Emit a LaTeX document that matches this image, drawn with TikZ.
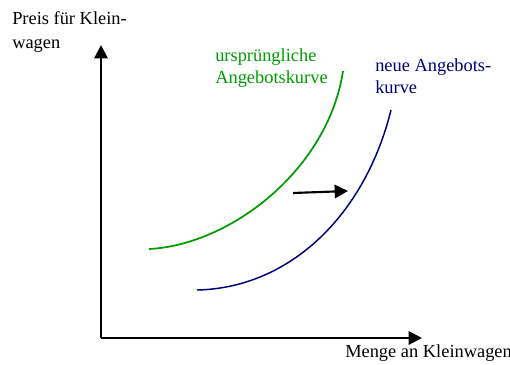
\documentclass[tikz,border=0pt]{standalone}
\usepackage{fontspec}
\setmainfont{Liberation Serif}
\usetikzlibrary{arrows.meta}
\definecolor{oldsupply}{RGB}{0,155,0}
\definecolor{newsupply}{RGB}{0,0,120}

\begin{document}
\begin{tikzpicture}[
  x=0.75pt, y=-0.75pt,
  every node/.style={font=\fontsize{13.8}{17}\selectfont, inner sep=0, align=left},
  axis/.style={line width=1.5pt, -{Triangle[length=10pt, width=10pt]}},
  curve/.style={line width=1.3pt},
  >=Stealth
]
\useasboundingbox (0,0) rectangle (510,364);

% Axes
\coordinate (origin) at (101,338);
\coordinate (ytip) at (101,45);
\coordinate (xtip) at (422,338);
\draw[axis] (origin) -- (ytip);
\draw[axis] (origin) -- (xtip);

\node[anchor=north west, font=\fontsize{13.8}{18.5}\selectfont] (ylabel) at (12,11) {Preis für Klein-\\wagen};
\node[anchor=north west] (xlabel) at (345,344) {Menge an Kleinwagen};

% Supply curves
\coordinate (oldstart) at (149,249);
\coordinate (oldend) at (343,71);
\draw[curve, oldsupply] (oldstart) .. controls (230,245) and (328,170) .. (oldend);
\node[anchor=north west, text=oldsupply] (oldlabel) at (215,48) {ursprüngliche\\Angebotskurve};

\coordinate (newstart) at (197,290);
\coordinate (newend) at (391,110);
\draw[curve, newsupply, line width=1.1pt] (newstart) .. controls (290,288) and (365,215) .. (newend);
\node[anchor=north west, text=newsupply] (newlabel) at (375,58) {neue Angebots-\\kurve};

% Shift arrow
\coordinate (shiftfrom) at (293,193);
\coordinate (shiftto) at (348,191);
\draw[line width=1.6pt, -{Triangle[length=10pt, width=10pt]}] (shiftfrom) -- (shiftto);

\end{tikzpicture}
\end{document}
